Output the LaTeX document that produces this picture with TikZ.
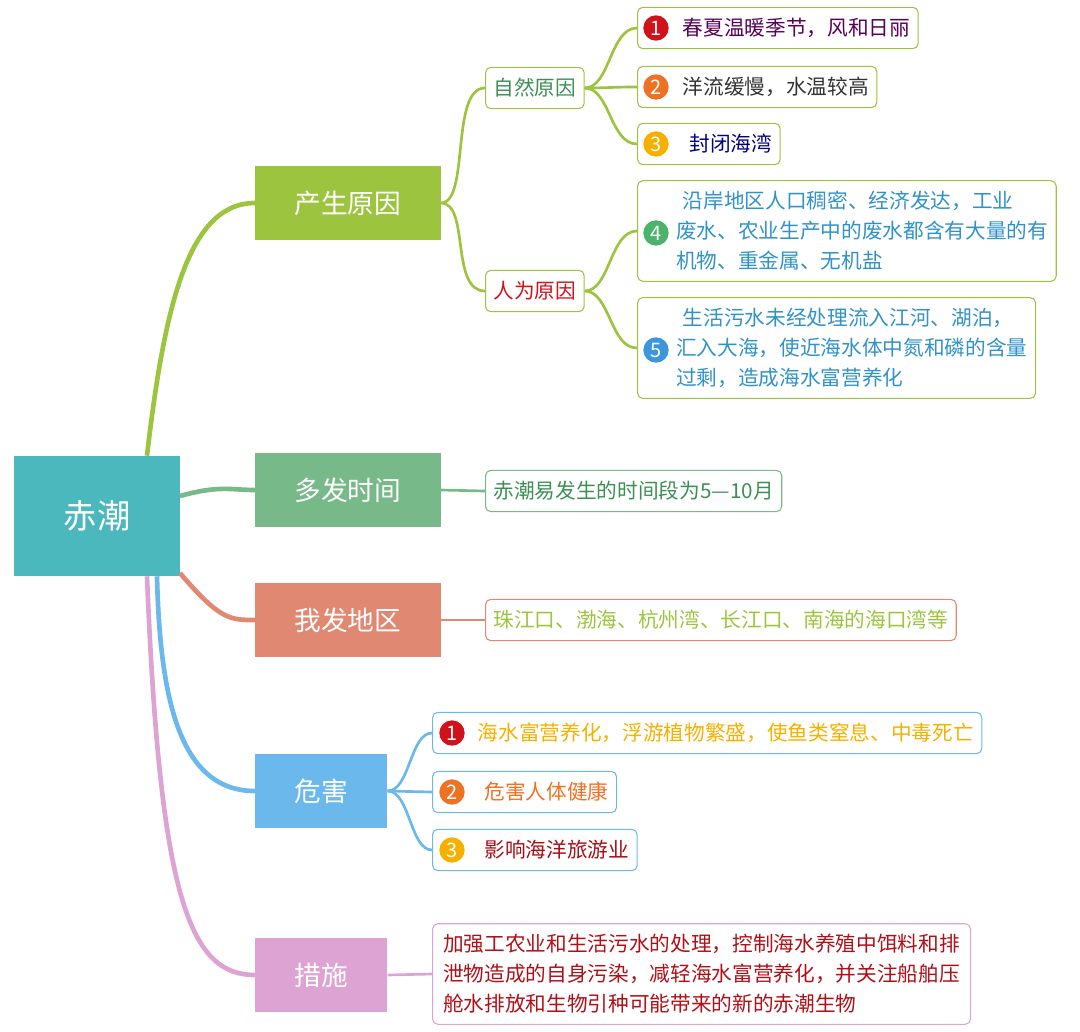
\documentclass[tikz,border=0pt]{standalone}
\usepackage{fontspec}
\setmainfont{Noto Sans CJK SC}
\definecolor{rootc}{HTML}{4BB8BE}
\definecolor{causec}{HTML}{9DC43F}
\definecolor{timec}{HTML}{78B98A}
\definecolor{areac}{HTML}{E08871}
\definecolor{harmc}{HTML}{6BB8EC}
\definecolor{measc}{HTML}{DDA3D3}
\definecolor{numa}{HTML}{D0121B}
\definecolor{numb}{HTML}{EE7124}
\definecolor{numc}{HTML}{F8B000}
\definecolor{numd}{HTML}{4CB46A}
\definecolor{nume}{HTML}{3C96DC}
\begin{document}
\begin{tikzpicture}[x=0.75pt,y=-0.75pt,
  topic/.style={fill=#1, text=white, minimum height=56pt, anchor=west, inner sep=0pt, font=\fontsize{20}{22}\selectfont},
  sub/.style={draw=#1, rounded corners=4pt, thick, anchor=west, minimum height=31pt, inner xsep=6pt, font=\fontsize{15.5}{17}\selectfont},
  leaf/.style={draw=#1, rounded corners=4pt, thick, anchor=west, inner xsep=6pt, inner ysep=8pt, align=left, font=\fontsize{15.5}{22.5}\selectfont},
  num/.style={circle, fill=#1, text=white, inner sep=0pt, minimum size=19pt, font=\fontsize{15}{15}\selectfont},
  branch/.style={draw=#1, line width=3.5pt},
  twig/.style={draw=#1, line width=2pt}]
\useasboundingbox (0,0) rectangle (1080,1031);
% 中心
\node[fill=rootc, text=white, minimum width=124pt, minimum height=90pt, inner sep=0pt, font=\fontsize{25}{28}\selectfont] (root) at (97,516) {赤潮};
% 主题
\node[topic=causec, minimum width=139pt] (cause) at (255,203) {产生原因};
\node[topic=timec, minimum width=139pt] (time) at (255,490) {多发时间};
\node[topic=areac, minimum width=139pt] (area) at (255,620) {我发地区};
\node[topic=harmc, minimum width=99pt] (harm) at (255,791) {危害};
\node[topic=measc, minimum width=99pt] (meas) at (255,975) {措施};
% 产生原因
\node[sub=causec, text=numd!80!black] (nat) at (485,88) {自然原因};
\node[sub=causec, text=numa] (hum) at (485,291) {人为原因};
\node[sub=causec, text=violet!70!black] (n1) at (637,28) {\hspace{28pt}春夏温暖季节，风和日丽};
\node[sub=causec, text=black!80] (n2) at (637,87) {\hspace{28pt}洋流缓慢，水温较高};
\node[sub=causec, text=blue!50!black] (n3) at (637,144) {\hspace{33pt}封闭海湾};
\node[leaf=causec, text=nume!80!teal] (n4) at (637,231) {\hspace{28pt}沿岸地区人口稠密、经济发达，工业\\\hspace{23pt}废水、农业生产中的废水都含有大量的有\\\hspace{23pt}机物、重金属、无机盐};
\node[leaf=causec, text=nume!80!teal] (n5) at (637,348) {\hspace{28pt}生活污水未经处理流入江河、湖泊，\\\hspace{23pt}汇入大海，使近海水体中氮和磷的含量\\\hspace{23pt}过剩，造成海水富营养化};
\node[num=numa] (c1) at (656,28) {1};
\node[num=numb] (c2) at (656,87) {2};
\node[num=numc] (c3) at (656,144) {3};
\node[num=numd] (c4) at (656,233) {4};
\node[num=nume] (c5) at (656,350) {5};
% 其它分支
\node[sub=timec, text=numd!80!black] (tleaf) at (485,491) {赤潮易发生的时间段为5—10月};
\node[sub=areac, text=causec] (aleaf) at (485,620) {珠江口、渤海、杭州湾、长江口、南海的海口湾等};
\node[sub=harmc, text=numc] (h1) at (432,733) {\hspace{28pt}海水富营养化，浮游植物繁盛，使鱼类窒息、中毒死亡};
\node[sub=harmc, text=numb] (h2) at (432,792) {\hspace{33pt}危害人体健康};
\node[sub=harmc, text=numa!80!black] (h3) at (432,850) {\hspace{33pt}影响海洋旅游业};
\node[num=numa] (d1) at (452,733) {1};
\node[num=numb] (d2) at (452,792) {2};
\node[num=numc] (d3) at (452,850) {3};
\node[leaf=measc, text=numa!85!black, inner xsep=8pt] (mleaf) at (432,974) {加强工农业和生活污水的处理，控制海水养殖中饵料和排\\泄物造成的自身污染，减轻海水富营养化，并关注船舶压\\舱水排放和生物引种可能带来的新的赤潮生物};
% 连线
\draw[branch=causec] (root.north) ++(50,0) .. controls (165,300) and (190,203) .. (cause.west);
\draw[branch=timec] (root.east) ++(0,-20) .. controls (220,485) and (230,490) .. (time.west);
\draw[branch=areac] (root.east) ++(0,57) .. controls (220,620) and (230,620) .. (area.west);
\draw[branch=harmc] (root.south) ++(60,0) .. controls (160,700) and (180,791) .. (harm.west);
\draw[branch=measc] (root.south) ++(50,0) .. controls (160,900) and (190,975) .. (meas.west);
\draw[twig=causec] (cause.east) .. controls (470,203) and (450,88) .. (nat.west);
\draw[twig=causec] (cause.east) .. controls (470,203) and (450,291) .. (hum.west);
\foreach \t in {n1,n2,n3} \draw[twig=causec] (nat.east) .. controls (610,88) and (610,0|-\t.west) .. (\t.west);
\foreach \t in {n4,n5} \draw[twig=causec] (hum.east) .. controls (610,291) and (610,0|-\t.west) .. (\t.west);
\draw[twig=timec] (time.east) -- (tleaf.west);
\draw[twig=areac] (area.east) -- (aleaf.west);
\foreach \t in {h1,h2,h3} \draw[twig=harmc] (harm.east) .. controls (410,791) and (410,0|-\t.west) .. (\t.west);
\draw[twig=measc] (meas.east) -- (mleaf.west);
\end{tikzpicture}
\end{document}
